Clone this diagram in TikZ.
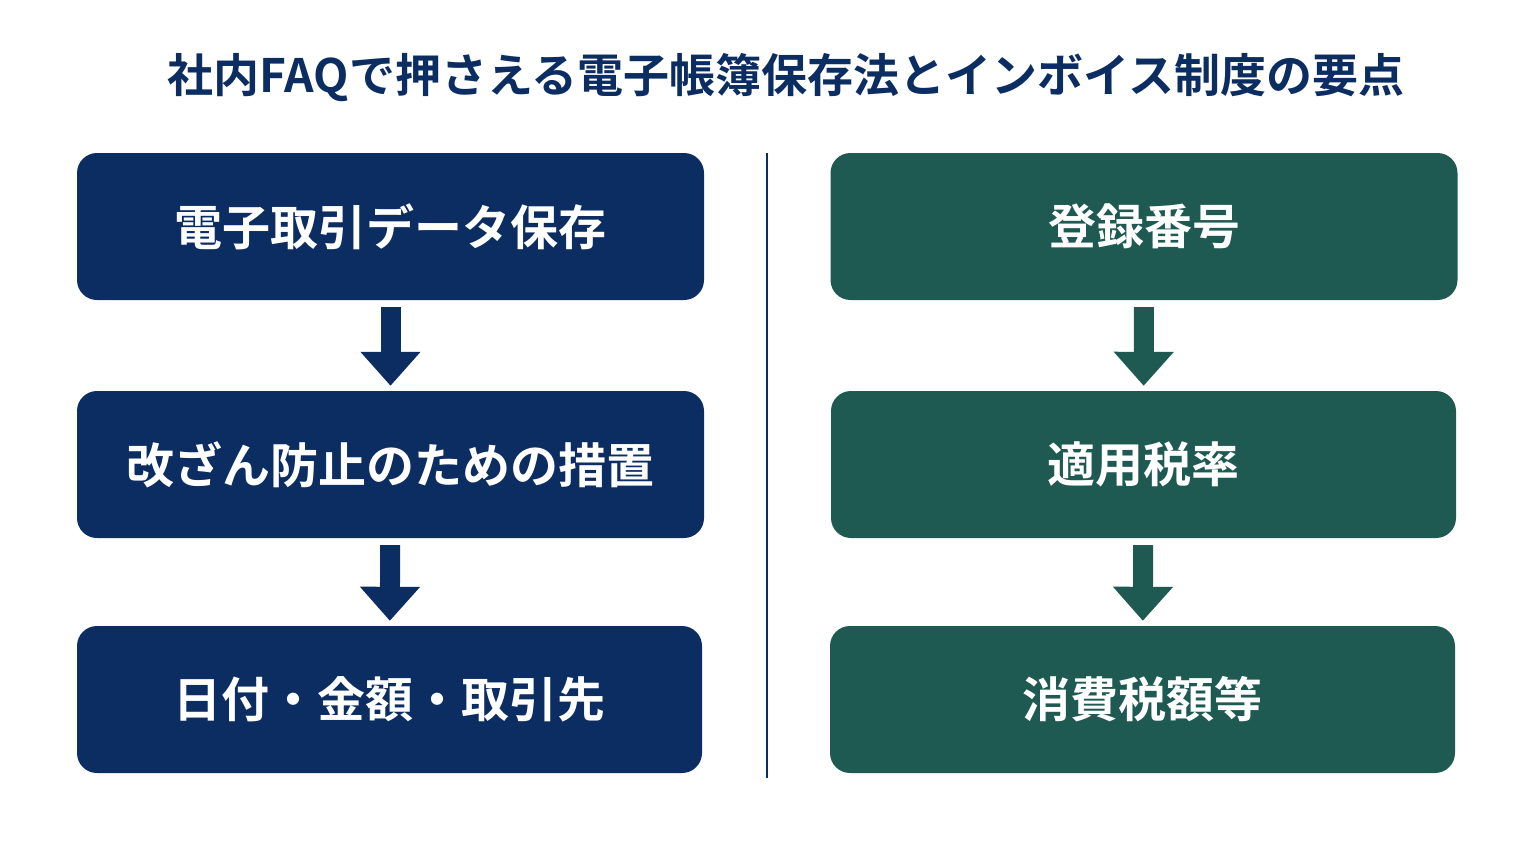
\documentclass[tikz,border=0pt]{standalone}
\usepackage{fontspec}
\setmainfont{Noto Sans CJK JP}[BoldFont={Noto Sans CJK JP Bold}]
\usetikzlibrary{arrows.meta}
\definecolor{navy}{HTML}{0B2D62}
\definecolor{teal}{HTML}{1E5A52}
\begin{document}
\begin{tikzpicture}[x=1pt,y=-1pt,
 box/.style={rounded corners=20pt,minimum width=627pt,minimum height=147pt,text=white,font=\fontsize{48}{50}\selectfont\bfseries,inner sep=0pt},
 lb/.style={box,fill=navy}, rb/.style={box,fill=teal},
 arr/.style={line width=20pt,-{Triangle[width=58pt,length=34pt]},shorten <=7pt,shorten >=5pt}]
\fill[white] (0,0) rectangle (1536,864);
\node[text=navy,font=\fontsize{46}{48}\selectfont\bfseries] (t) at (786,78) {社内FAQで押さえる電子帳簿保存法とインボイス制度の要点};
\node[lb] (l1) at (390.5,226.5) {電子取引データ保存};
\node[lb] (l2) at (390.5,464.5) {改ざん防止のための措置};
\node[lb,minimum width=625pt] (l3) at (389.5,699.5) {日付・金額・取引先};
\node[rb] (r1) at (1144,226.5) {登録番号};
\node[rb,minimum width=625pt] (r2) at (1143.5,464.5) {適用税率};
\node[rb,minimum width=625pt] (r3) at (1142.5,699.5) {消費税額等};
\draw[arr,navy] (l1) -- (l2);
\draw[arr,navy] (l2) -- (l3);
\draw[arr,teal] (r1) -- (r2);
\draw[arr,teal] (r2) -- (r3);
\coordinate (d1) at (767,153); \coordinate (d2) at (767,778);
\draw[navy,line width=2.5pt] (d1) -- (d2);
\end{tikzpicture}
\end{document}
